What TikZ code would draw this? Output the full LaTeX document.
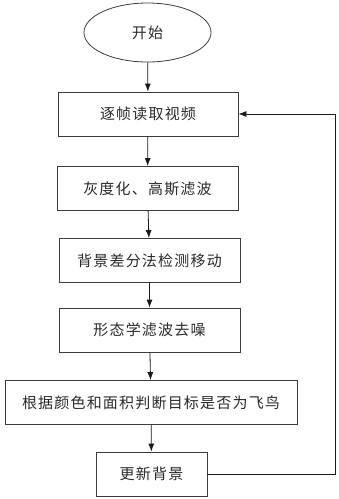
\documentclass[tikz,border=0pt]{standalone}
\usepackage{fontspec}
\setmainfont[LetterSpace=8]{Noto Sans CJK SC}
\usepackage{xcolor}
\usepackage{tikz}
\usetikzlibrary{arrows.meta, positioning, shapes.geometric, calc}
\definecolor{Ink}{HTML}{1A1A1A}
\definecolor{Edge}{HTML}{3C3C3C}
\definecolor{Txt}{HTML}{2A2A2A}

\begin{document}
\begin{tikzpicture}[
  x=1pt, y=-1pt,
  font=\fontsize{15}{18}\selectfont, text=Txt,
  stage/.style={draw=Edge, thick, align=center, minimum height=44pt, inner sep=2pt, fill=white},
  start/.style={ellipse, draw=Edge, thick, minimum width=127pt, minimum height=59pt},
  arrow/.style={-{Latex[length=8pt,width=6pt]}, thick, draw=Ink}
]
\useasboundingbox (0,0) rectangle (339,499);

\node[start] (begin) at (147.5,32.5) {开始};
\node[stage, minimum width=180pt] (read) at (148,114) {逐帧读取视频};
\node[stage, minimum width=181pt] (gauss) at (147.5,188.5) {灰度化、高斯滤波};
\node[stage, minimum width=181pt] (diff) at (149.5,260.5) {背景差分法检测移动};
\node[stage, minimum width=181pt] (morph) at (149.5,330) {形态学滤波去噪};
\node[stage, minimum width=292pt] (judge) at (151,402.5) {根据颜色和面积判断目标是否为飞鸟};
\node[stage, minimum width=111pt] (update) at (151.5,474) {更新背景};
\coordinate (loop) at (335,0);

\draw[arrow] (begin) -- (read);
\draw[arrow] (read) -- (gauss);
\draw[arrow] (gauss) -- (diff);
\draw[arrow] (diff) -- (morph);
\draw[arrow] (morph) -- (judge);
\draw[arrow] (judge) -- (update);
\draw[arrow] (update.east) -- (update.east -| loop) |- (read.east);
\end{tikzpicture}
\end{document}
